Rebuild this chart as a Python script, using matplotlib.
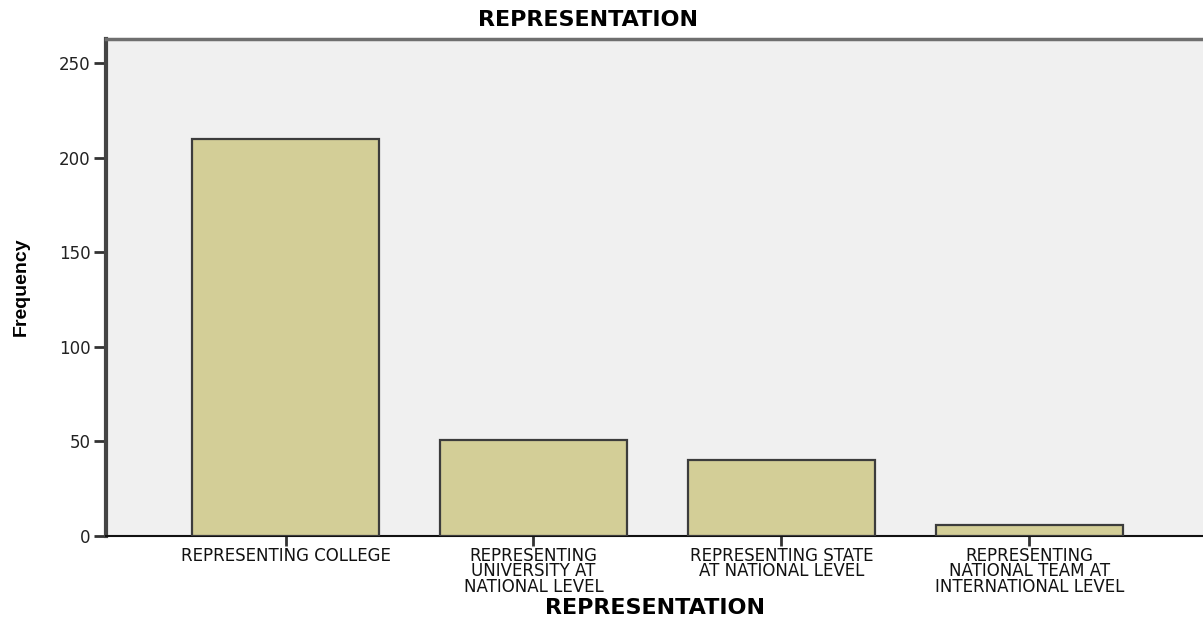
import matplotlib
matplotlib.use("Agg")
import matplotlib.pyplot as plt

categories = ["REPRESENTING COLLEGE",
              "REPRESENTING\nUNIVERSITY AT\nNATIONAL LEVEL",
              "REPRESENTING STATE\nAT NATIONAL LEVEL",
              "REPRESENTING\nNATIONAL TEAM AT\nINTERNATIONAL LEVEL"]
frequency = [210, 51, 40, 6]
yticks = [0, 50, 100, 150, 200, 250]

plt.rcParams['font.family'] = ['DejaVu Sans']

fig = plt.figure(figsize=(12.03, 6.2), dpi=100)
ax = fig.add_axes([106/1203, 84/620, 1 - 106/1203 + 0.002, (536-39)/620])
ax.set_facecolor('#F0F0F0')

x = list(range(len(categories)))
ax.bar(x, frequency, width=0.752, color='#D3CE97', edgecolor='#3C3C3C', linewidth=1.6, zorder=3)

ax.set_xlim(-0.724, 3.71)
ax.set_ylim(0, 262.7)
ax.set_yticks(yticks)
ax.set_yticklabels([str(v) for v in yticks], fontsize=12, color='#222222')
ax.set_xticks(x)
ax.set_xticklabels(categories, fontsize=12, linespacing=0.8, color='#111111')

ax.tick_params(axis='y', direction='out', length=9, width=2, color='#333333', pad=2)
ax.tick_params(axis='x', direction='out', length=7, width=2, color='#333333', pad=1)

ax.spines['left'].set_linewidth(3)
ax.spines['left'].set_color('#444444')
ax.spines['bottom'].set_linewidth(1.5)
ax.spines['bottom'].set_color('#111111')
ax.spines['top'].set_linewidth(2.5)
ax.spines['top'].set_color('#6F6F6F')
ax.spines['right'].set_visible(False)

fig.text(655/1203, 1 - 608/620, "REPRESENTATION", fontsize=16, fontweight='bold',
         ha='center', va='center')
fig.text(21/1203, 1 - 287/620, "Frequency", rotation=90, fontsize=14, fontweight='bold',
         family=['Liberation Sans Narrow', 'Liberation Sans', 'DejaVu Sans'],
         ha='center', va='center')
fig.text(588/1203, 1 - 20/620, "REPRESENTATION", fontsize=16, fontweight='bold',
         ha='center', va='center')

fig.savefig("out.png", dpi=100)
